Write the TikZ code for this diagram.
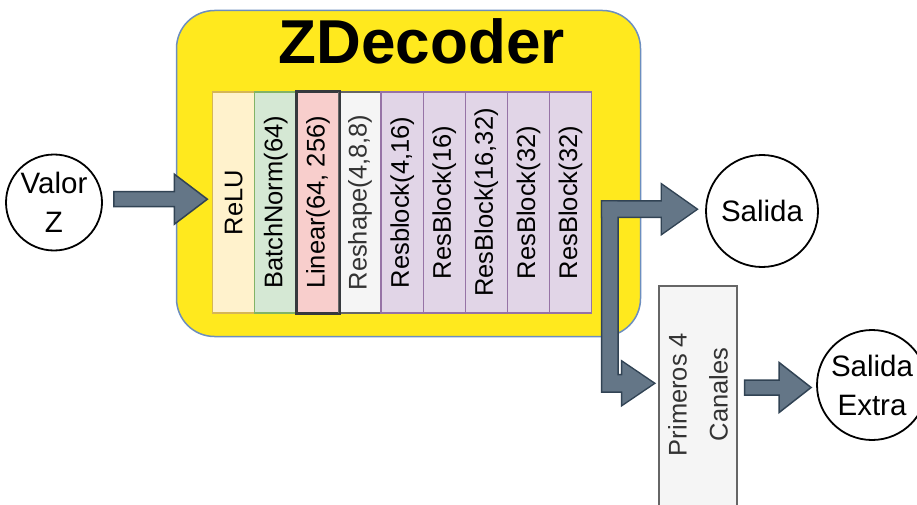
\documentclass[tikz,border=0pt]{standalone}
\usepackage{fontspec}
\setmainfont{Liberation Sans}
\usetikzlibrary{calc}

\definecolor{zyellow}{HTML}{FFE91E}
\definecolor{zblue}{HTML}{6C8EBF}
\definecolor{arrfill}{HTML}{647687}
\definecolor{arrline}{HTML}{314354}
\definecolor{relufill}{HTML}{FFF2CC}
\definecolor{reluline}{HTML}{D6B656}
\definecolor{bnfill}{HTML}{D5E8D4}
\definecolor{bnline}{HTML}{82B366}
\definecolor{linfill}{HTML}{F8CECC}
\definecolor{linline}{HTML}{36393D}
\definecolor{grayfill}{HTML}{F5F5F5}
\definecolor{grayline}{HTML}{666666}
\definecolor{grtext}{HTML}{333333}
\definecolor{resfill}{HTML}{E1D5E7}
\definecolor{resline}{HTML}{9673A6}

% straight block arrow: shaft from #2 to the tip at #3 (y taken from #2)
\newcommand{\hflex}[5][]{%
  \path[#1] let \p1=(#2), \p2=(#3) in
    (\x1,\y1+7.5pt) -- (\x2-#5,\y1+7.5pt) -- (\x2-#5,\y1+#4) -- (\x2,\y1)
    -- (\x2-#5,\y1-#4) -- (\x2-#5,\y1-7.5pt) -- (\x1,\y1-7.5pt) -- cycle;}
% elbow block arrow: down from #2 (top centre of the shaft), then right to the tip at #3
\newcommand{\eflex}[5][]{%
  \path[#1] let \p1=(#2), \p2=(#3) in
    (\x1-7.5pt,\y1) -- (\x1+7.5pt,\y1) -- (\x1+7.5pt,\y2+8pt) -- (\x2-#5,\y2+8pt)
    -- (\x2-#5,\y2+#4) -- (\x2,\y2) -- (\x2-#5,\y2-#4) -- (\x2-#5,\y2-8pt)
    -- (\x1-7.5pt,\y2-8pt) -- cycle;}

\begin{document}
\begin{tikzpicture}[x=1pt,y=-1pt,
  layer/.style={rectangle, minimum width=42.1pt, minimum height=221pt, inner sep=0pt, line width=1.3pt},
  laytext/.style={rotate=90, inner sep=0pt, font=\fontsize{25.5}{30}\selectfont},
  ball/.style={circle, draw=black, line width=1.8pt, fill=white, inner sep=0pt, align=center,
    font=\fontsize{29.5}{39}\selectfont},
  arrstroke/.style={draw=arrline, line width=3pt, line join=miter},
  arrbody/.style={fill=arrfill},
  arrow/.style={draw=arrline, fill=arrfill, line width=1.5pt, line join=miter}]

\useasboundingbox (0,0) rectangle (917,505);
\clip (0,0) rectangle (917,505);

% decoder container and its title
\node[draw=zblue, fill=zyellow, line width=1.5pt, rounded corners=38pt, inner sep=0pt,
  minimum width=464pt, minimum height=326pt] (zdec) at (408.5,173.5) {};
\node[anchor=base, inner sep=0pt, font=\fontsize{62}{70}\selectfont\bfseries] (ztitle)
  at (421.7,63.5) {ZDecoder};

% layer stack
\foreach \i/\fc/\lc/\tc/\txt in {
    1/relufill/reluline/black/ReLU,
    2/bnfill/bnline/black/BatchNorm(64),
    3/linfill/linline/black/{Linear(64, 256)},
    4/grayfill/grayline/grtext/{Reshape(4,8,8)},
    5/resfill/resline/black/{Resblock(4,16)},
    6/resfill/resline/black/ResBlock(16),
    7/resfill/resline/black/{ResBlock(16,32)},
    8/resfill/resline/black/ResBlock(32),
    9/resfill/resline/black/ResBlock(32)} {
  \node[layer, fill=\fc, draw=\lc] (L\i) at (212.7+42.1*\i-21.05, 202.5) {};
  \node[laytext, text=\tc] (T\i) at (L\i) {\txt};
}
% the Linear layer's darker frame sits on top of its neighbours
\draw[linline, line width=2pt] (L3.south west) rectangle (L3.north east);

% inputs and outputs
\node[ball, minimum size=96pt] (valz) at (54,202.5) {Valor\\Z};
\node[ball, minimum size=112pt] (sal) at (762,211) {Salida};
\node[ball, minimum size=110pt] (salx) at (872,385) {Salida\\Extra};

\node[rectangle, draw=grayline, fill=grayfill, line width=1.8pt, inner sep=0pt,
  minimum width=77.4pt, minimum height=260pt] (prim) at (698,416) {};
\node[rotate=90, inner sep=0pt, align=center, text=grtext,
  font=\fontsize{25.5}{41}\selectfont] (primt) at (698,394.5) {Primeros 4\\Canales};

% connectors
\coordinate (a1s) at ($(valz.east)+(11,-3.3)$);
\coordinate (a1e) at ($(L1.west)+(-4.7,0)$);
\hflex[arrow]{a1s}{a1e}{25pt}{33pt}

\coordinate (a2s) at ($(L9.east)+(10,6.7)$);
\coordinate (a2e) at ($(sal.west)+(-9,0)$);
\coordinate (a3s) at ($(L9.east)+(17.5,-0.8)$);
\coordinate (a3e) at ($(prim.west)+(-5,0)$);
\path (a3e |- 0,383.3) coordinate (a3t);
% both branches share one outline
\hflex[arrstroke]{a2s}{a2e}{24pt}{34pt}
\eflex[arrstroke]{a3s}{a3t}{21pt}{31pt}
\hflex[arrbody]{a2s}{a2e}{24pt}{34pt}
\eflex[arrbody]{a3s}{a3t}{21pt}{31pt}

\coordinate (a4s) at ($(prim.east)+(7,-28.5)$);
\coordinate (a4e) at ($(salx.west)+(-5,0)$);
\hflex[arrow]{a4s}{a4e}{25pt}{32pt}
\end{tikzpicture}
\end{document}
